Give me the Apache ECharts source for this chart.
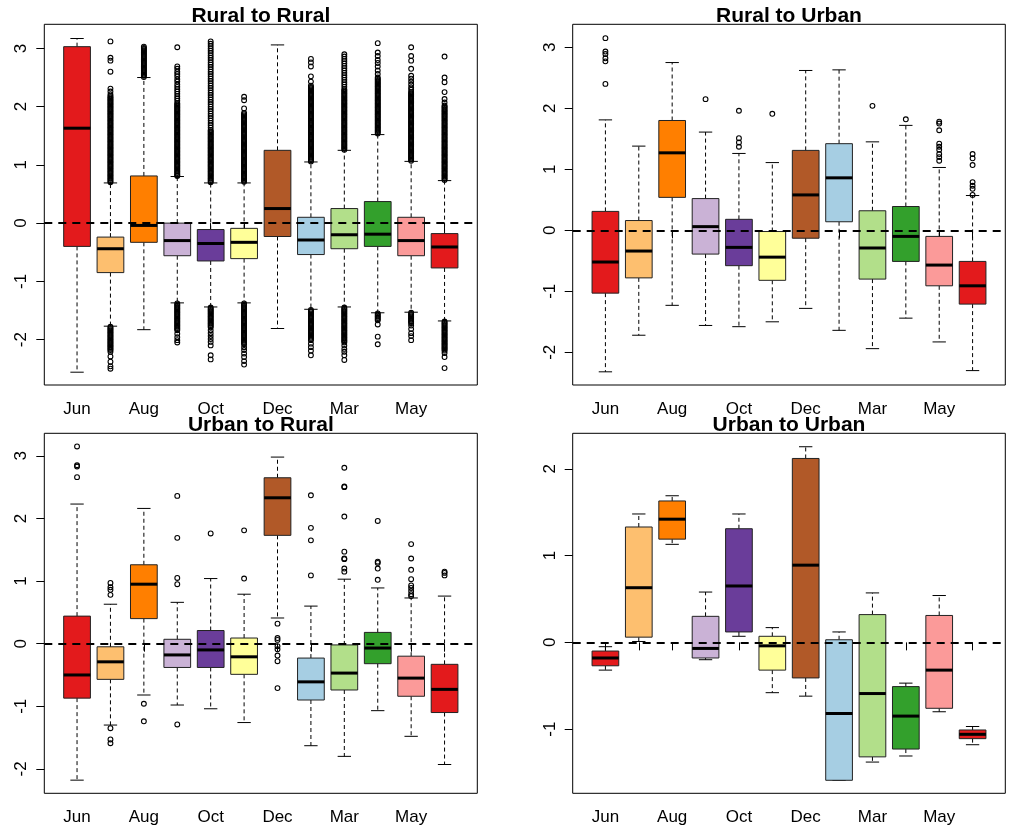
<!DOCTYPE html>
<html>
<head>
<meta charset="utf-8">
<script src="https://cdn.jsdelivr.net/npm/echarts@6/dist/echarts.min.js"></script>
<style>
html,body{margin:0;padding:0;background:#fff;}
#c{width:1010px;height:831px;}
</style>
</head>
<body>
<div id="c"></div>
<script>
// ---------- data ----------
var MONTHS = ['Jun','Jul','Aug','Sep','Oct','Nov','Dec','Jan','Mar','Apr','May','Jun'];
var COLORS = ['#E31A1C','#FDBF6F','#FF7F00','#CAB2D6','#6A3D9A','#FFFF99','#B15928','#A6CEE3','#B2DF8A','#33A02C','#FB9A99','#E31A1C'];
var TITLES = ['Rural to Rural','Rural to Urban','Urban to Rural','Urban to Urban'];

// Rural to Rural
var rrLow  = [-2.56,-1.77,-1.83,-1.37,-1.44,-1.37,-1.81,-1.48,-1.44,-1.54,-1.53,-1.68];
var rrQ1   = [-0.40,-0.85,-0.33,-0.56,-0.65,-0.61,-0.23,-0.54,-0.44,-0.40,-0.56,-0.77];
var rrMed  = [ 1.63,-0.44,-0.04,-0.30,-0.35,-0.33, 0.25,-0.29,-0.20,-0.19,-0.30,-0.41];
var rrQ3   = [ 3.03,-0.24, 0.81, 0.00,-0.11,-0.09, 1.25, 0.10, 0.25, 0.37, 0.10,-0.18];
var rrHigh = [ 3.17, 0.69, 2.50, 0.80, 0.69, 0.69, 3.06, 1.05, 1.25, 1.52, 1.06, 0.73];
var rrOut = [
  [],
  [3.12,2.84,2.79,2.60,2.31,2.26,2.21,
   2.18,2.16,2.14,2.12,2.10,2.08,2.06,2.04,2.02,2.00,1.98,1.96,1.94,1.92,1.90,1.88,1.86,1.84,1.82,1.80,1.78,1.76,1.74,1.72,1.70,1.68,1.66,1.64,1.62,1.60,1.58,1.56,1.54,1.52,1.50,1.48,1.46,1.44,1.42,1.40,1.38,1.36,1.34,1.32,1.30,1.28,1.26,1.24,1.22,1.20,1.18,1.16,1.14,1.12,1.10,1.08,1.06,1.04,1.02,1.00,0.98,0.96,0.94,0.92,0.90,0.88,0.86,0.84,0.82,0.80,0.78,0.76,0.74,0.72,0.70,
   -1.78,-1.80,-1.82,-1.84,-1.86,-1.88,-1.90,-1.92,-1.94,-1.96,-1.98,-2.00,-2.02,-2.04,-2.06,-2.08,-2.10,-2.12,-2.14,-2.16,-2.18,-2.21,-2.29,-2.38,-2.46,-2.50],
  [2.51,2.53,2.55,2.57,2.59,2.61,2.63,2.65,2.67,2.69,2.71,2.73,2.75,2.77,2.79,2.81,2.83,2.85,2.87,2.89,2.91,2.93,2.95,2.97,2.99,3.01,3.03],
  [3.02,2.69,2.65,2.60,2.56,2.52,2.47,2.43,2.38,2.34,2.30,2.26,2.22,2.18,2.14,2.10,
   2.06,2.04,2.02,2.00,1.98,1.96,1.94,1.92,1.90,1.88,1.86,1.84,1.82,1.80,1.78,1.76,1.74,1.72,1.70,1.68,1.66,1.64,1.62,1.60,1.58,1.56,1.54,1.52,1.50,1.48,1.46,1.44,1.42,1.40,1.38,1.36,1.34,1.32,1.30,1.28,1.26,1.24,1.22,1.20,1.18,1.16,1.14,1.12,1.10,1.08,1.06,1.04,1.02,1.00,0.98,0.96,0.94,0.92,0.90,0.88,0.86,0.84,0.82,0.81,
   -1.38,-1.40,-1.42,-1.44,-1.46,-1.48,-1.50,-1.52,-1.54,-1.56,-1.58,-1.60,-1.62,-1.64,-1.66,-1.68,-1.70,-1.72,-1.74,-1.76,-1.78,-1.80,-1.82,-1.84,-1.90,-1.96,-2.01,-2.05],
  [3.12,3.08,3.04,3.00,2.96,2.92,2.88,2.84,2.80,2.76,2.72,2.68,2.64,2.60,2.56,2.52,2.48,2.44,2.40,2.36,2.32,2.28,2.24,2.20,2.16,2.12,2.08,2.04,2.00,1.96,1.92,1.88,1.84,1.80,1.76,1.72,1.68,1.64,1.60,
   1.58,1.56,1.54,1.52,1.50,1.48,1.46,1.44,1.42,1.40,1.38,1.36,1.34,1.32,1.30,1.28,1.26,1.24,1.22,1.20,1.18,1.16,1.14,1.12,1.10,1.08,1.06,1.04,1.02,1.00,0.98,0.96,0.94,0.92,0.90,0.88,0.86,0.84,0.82,0.80,0.78,0.76,0.74,0.72,0.70,
   -1.45,-1.47,-1.49,-1.51,-1.53,-1.55,-1.57,-1.59,-1.61,-1.63,-1.65,-1.67,-1.69,-1.71,-1.73,-1.75,-1.77,-1.79,-1.84,-1.89,-1.94,-1.99,-2.04,-2.10,-2.27,-2.34],
  [2.17,2.11,1.97,
   1.89,1.87,1.85,1.83,1.81,1.79,1.77,1.75,1.73,1.71,1.69,1.67,1.65,1.63,1.61,1.59,1.57,1.55,1.53,1.51,1.49,1.47,1.45,1.43,1.41,1.39,1.37,1.35,1.33,1.31,1.29,1.27,1.25,1.23,1.21,1.19,1.17,1.15,1.13,1.11,1.09,1.07,1.05,1.03,1.01,0.99,0.97,0.95,0.93,0.91,0.89,0.87,0.85,0.83,0.81,0.79,0.77,0.75,0.73,0.71,
   -1.38,-1.40,-1.42,-1.44,-1.46,-1.48,-1.50,-1.52,-1.54,-1.56,-1.58,-1.60,-1.62,-1.64,-1.66,-1.68,-1.70,-1.72,-1.74,-1.76,-1.78,-1.80,-1.82,-1.84,-1.86,-1.88,-1.90,-1.92,-1.94,-1.96,-1.98,-2.00,-2.02,-2.04,-2.06,-2.08,-2.13,-2.18,-2.24,-2.30,-2.37,-2.43],
  [],
  [2.82,2.76,2.69,2.52,2.43,
   2.36,2.34,2.32,2.30,2.28,2.26,2.24,2.22,2.20,2.18,2.16,2.14,2.12,2.10,2.08,2.06,2.04,2.02,2.00,1.98,1.96,1.94,1.92,1.90,1.88,1.86,1.84,1.82,1.80,1.78,1.76,1.74,1.72,1.70,1.68,1.66,1.64,1.62,1.60,1.58,1.56,1.54,1.52,1.50,1.48,1.46,1.44,1.42,1.40,1.38,1.36,1.34,1.32,1.30,1.28,1.26,1.24,1.22,1.20,1.18,1.16,1.14,1.12,1.10,1.08,1.06,
   -1.49,-1.51,-1.53,-1.55,-1.57,-1.59,-1.61,-1.63,-1.65,-1.67,-1.69,-1.71,-1.73,-1.75,-1.77,-1.79,-1.81,-1.83,-1.85,-1.87,-1.89,-1.91,-1.93,-1.95,-1.97,-1.99,-2.01,-2.07,-2.13,-2.19,-2.27],
  [2.90,2.86,2.82,2.78,2.74,2.70,2.66,2.62,2.58,2.54,2.50,2.46,2.42,2.38,2.34,2.30,
   2.28,2.26,2.24,2.22,2.20,2.18,2.16,2.14,2.12,2.10,2.08,2.06,2.04,2.02,2.00,1.98,1.96,1.94,1.92,1.90,1.88,1.86,1.84,1.82,1.80,1.78,1.76,1.74,1.72,1.70,1.68,1.66,1.64,1.62,1.60,1.58,1.56,1.54,1.52,1.50,1.48,1.46,1.44,1.42,1.40,1.38,1.36,1.34,1.32,1.30,1.28,1.26,
   -1.45,-1.47,-1.49,-1.51,-1.53,-1.55,-1.57,-1.59,-1.61,-1.63,-1.65,-1.67,-1.69,-1.71,-1.73,-1.75,-1.77,-1.79,-1.81,-1.83,-1.85,-1.87,-1.89,-1.91,-1.93,-1.95,-1.97,-1.99,-2.01,-2.03,-2.05,-2.10,-2.16,-2.21,-2.27,-2.35],
  [3.09,2.93,2.87,2.80,2.75,2.69,2.62,2.56,
   2.50,2.48,2.46,2.44,2.42,2.40,2.38,2.36,2.34,2.32,2.30,2.28,2.26,2.24,2.22,2.20,2.18,2.16,2.14,2.12,2.10,2.08,2.06,2.04,2.02,2.00,1.98,1.96,1.94,1.92,1.90,1.88,1.86,1.84,1.82,1.80,1.78,1.76,1.74,1.72,1.70,1.68,1.66,1.64,1.62,1.60,1.58,1.56,1.54,
   -1.55,-1.57,-1.59,-1.61,-1.63,-1.65,-1.67,-1.74,-1.95,-2.08],
  [3.02,2.87,2.79,2.65,2.53,2.48,2.43,2.38,2.33,2.29,
   2.25,2.23,2.21,2.19,2.17,2.15,2.13,2.11,2.09,2.07,2.05,2.03,2.01,1.99,1.97,1.95,1.93,1.91,1.89,1.87,1.85,1.83,1.81,1.79,1.77,1.75,1.73,1.71,1.69,1.67,1.65,1.63,1.61,1.59,1.57,1.55,1.53,1.51,1.49,1.47,1.45,1.43,1.41,1.39,1.37,1.35,1.33,1.31,1.29,1.27,1.25,1.23,1.21,1.19,1.17,1.15,1.13,1.11,1.09,1.07,
   -1.54,-1.56,-1.58,-1.60,-1.62,-1.64,-1.66,-1.68,-1.70,-1.72,-1.76,-1.82,-1.89,-1.94,-2.01],
  [2.86,2.50,2.42,2.25,2.13,2.07,
   2.02,2.00,1.98,1.96,1.94,1.92,1.90,1.88,1.86,1.84,1.82,1.80,1.78,1.76,1.74,1.72,1.70,1.68,1.66,1.64,1.62,1.60,1.58,1.56,1.54,1.52,1.50,1.48,1.46,1.44,1.42,1.40,1.38,1.36,1.34,1.32,1.30,1.28,1.26,1.24,1.22,1.20,1.18,1.16,1.14,1.12,1.10,1.08,1.06,1.04,1.02,1.00,0.98,0.96,0.94,0.92,0.90,0.88,0.86,0.84,0.82,0.80,0.78,0.76,0.74,
   -1.69,-1.71,-1.73,-1.75,-1.77,-1.79,-1.81,-1.83,-1.85,-1.87,-1.89,-1.91,-1.93,-1.95,-1.97,-1.99,-2.01,-2.03,-2.05,-2.07,-2.09,-2.11,-2.13,-2.15,-2.17,-2.19,-2.23,-2.30,-2.49]
];

// Rural to Urban
var ruLow  = [-2.32,-1.72,-1.23,-1.56,-1.58,-1.50,-1.28,-1.64,-1.94,-1.44,-1.83,-2.30];
var ruQ1   = [-1.03,-0.78, 0.54,-0.39,-0.58,-0.82,-0.13, 0.14,-0.80,-0.51,-0.91,-1.21];
var ruMed  = [-0.52,-0.34, 1.27, 0.06,-0.28,-0.44, 0.58, 0.86,-0.29,-0.10,-0.57,-0.91];
var ruQ3   = [ 0.31, 0.16, 1.80, 0.52, 0.18,-0.02, 1.31, 1.42, 0.32, 0.39,-0.10,-0.51];
var ruHigh = [ 1.81, 1.38, 2.75, 1.61, 1.26, 1.11, 2.62, 2.63, 1.45, 1.72, 1.03, 0.57];
var ruOut = [[3.15,2.93,2.89,2.82,2.77,2.40],[],[],[2.15],[1.96,1.51,1.44,1.37],[1.91],[],[],[2.04],[1.82],
  [1.78,1.75,1.64,1.42,1.37,1.32,1.25,1.20,1.14],[1.25,1.18,1.07,0.79,0.73,0.68,0.58]];

// Urban to Rural
var urLow  = [-2.18,-1.30,-0.82,-0.98,-1.04,-1.26, 0.41,-1.63,-1.80,-1.07,-1.48,-1.93];
var urQ1   = [-0.87,-0.57, 0.40,-0.38,-0.38,-0.49, 1.73,-0.90,-0.74,-0.32,-0.84,-1.10];
var urMed  = [-0.50,-0.29, 0.95,-0.18,-0.10,-0.21, 2.33,-0.61,-0.47,-0.07,-0.55,-0.73];
var urQ3   = [ 0.44,-0.05, 1.26, 0.07, 0.21, 0.09, 2.65,-0.23,-0.02, 0.18,-0.20,-0.33];
var urHigh = [ 2.23, 0.63, 2.16, 0.66, 1.04, 0.79, 2.98, 0.60, 1.03, 0.89, 0.73, 0.76];
var urOut = [[3.15,2.85,2.83,2.66],[0.97,0.90,0.86,0.78,-1.35,-1.53,-1.59],[-0.96,-1.24],[2.36,1.69,1.05,0.95,-1.29],
  [1.76],[1.81,1.04],[0.32,0.09,0.06,-0.04,-0.09,-0.19,-0.28,-0.71],[2.37,1.85,1.65,1.09],
  [2.81,2.51,2.50,2.03,1.47,1.36,1.35,1.20,1.15],[1.96,1.31,1.29,1.20,1.02],[1.59,1.36,1.18,1.03,0.93,0.89,0.84,0.79,0.76],[1.15,1.13,1.09]];

// Urban to Urban
var uuLow  = [-0.32, 0.01, 1.13,-0.20, 0.07,-0.58,-0.62,-1.59,-1.38,-1.31,-0.80,-1.18];
var uuQ1   = [-0.27, 0.06, 1.19,-0.18, 0.12,-0.32,-0.41,-1.59,-1.32,-1.23,-0.76,-1.11];
var uuMed  = [-0.18, 0.63, 1.42,-0.07, 0.65,-0.04, 0.89,-0.82,-0.59,-0.85,-0.32,-1.06];
var uuQ3   = [-0.10, 1.33, 1.63, 0.30, 1.31, 0.07, 2.12, 0.03, 0.32,-0.51, 0.31,-1.01];
var uuHigh = [-0.05, 1.48, 1.69, 0.58, 1.48, 0.17, 2.255,0.12, 0.57,-0.47, 0.54,-0.97];
var uuOut = [[],[],[],[],[],[],[],[],[],[],[],[]];

var Y_TICKS = [[-2,-1,0,1,2,3],[-2,-1,0,1,2,3],[-2,-1,0,1,2,3],[-1,0,1,2]];
var Y_RANGE = [[-2.78,3.414],[-2.536,3.377],[-2.39,3.36],[-1.74,2.41]];
var X_LABEL_POS = [1,3,5,7,9,11];
var X_TICK_POS = [1,2,3,4,5,6,7,8,9,10,11,12];

// ---------- build ----------
var panels = [
  [rrLow,rrQ1,rrMed,rrQ3,rrHigh,rrOut],
  [ruLow,ruQ1,ruMed,ruQ3,ruHigh,ruOut],
  [urLow,urQ1,urMed,urQ3,urHigh,urOut],
  [uuLow,uuQ1,uuMed,uuQ3,uuHigh,uuOut]
];
var GRIDS = [
  {left:44.3, top:24.3, width:433, height:360.7},
  {left:572.7, top:24.3, width:432.6, height:360.7},
  {left:44.3, top:433.3, width:433, height:360},
  {left:572.7, top:433.3, width:432.6, height:360}
];
var FONT = '"Liberation Sans", Arial, Helvetica, sans-serif';

function renderBox(params, api){
  var x = api.value(0);
  var lo = api.coord([x, api.value(1)]);
  var q1 = api.coord([x, api.value(2)]);
  var md = api.coord([x, api.value(3)]);
  var q3 = api.coord([x, api.value(4)]);
  var hi = api.coord([x, api.value(5)]);
  var bw = api.size([0.8, 0])[0];
  var sw = bw * 0.5;
  var cx = lo[0];
  var color = COLORS[params.dataIndex];
  var dash = {stroke:'#000', lineWidth:1, lineDash:[4,3]};
  var solid = {stroke:'#000', lineWidth:1};
  return {type:'group', children:[
    {type:'line', shape:{x1:cx,y1:q3[1],x2:cx,y2:hi[1]}, style:dash},
    {type:'line', shape:{x1:cx,y1:q1[1],x2:cx,y2:lo[1]}, style:dash},
    {type:'line', shape:{x1:cx-sw/2,y1:hi[1],x2:cx+sw/2,y2:hi[1]}, style:solid},
    {type:'line', shape:{x1:cx-sw/2,y1:lo[1],x2:cx+sw/2,y2:lo[1]}, style:solid},
    {type:'rect', shape:{x:cx-bw/2, y:q3[1], width:bw, height:q1[1]-q3[1]}, style:{fill:color, stroke:'#222', lineWidth:1}},
    {type:'line', shape:{x1:cx-bw/2,y1:md[1],x2:cx+bw/2,y2:md[1]}, style:{stroke:'#000', lineWidth:3}}
  ]};
}

var option = {animation:false, backgroundColor:'#fff', title:[], grid:[], xAxis:[], yAxis:[], series:[]};

panels.forEach(function(p, k){
  var g = GRIDS[k];
  option.grid.push({left:g.left, top:g.top, width:g.width, height:g.height, show:true, borderColor:'#000', borderWidth:1, backgroundColor:'transparent'});
  option.title.push({text:TITLES[k], left:g.left + g.width/2, top:g.top - 18.5, textAlign:'center', padding:0,
    textStyle:{fontFamily:FONT, fontSize:21, fontWeight:'bold', color:'#000'}});
  option.xAxis.push({type:'value', gridIndex:k, min:0.02, max:12.98,
    axisLine:{show:false}, splitLine:{show:false},
    axisTick:{show:true, inside:false, length:8, customValues:X_TICK_POS, lineStyle:{color:'#000', width:1}},
    axisLabel:{show:true, margin:16, customValues:X_LABEL_POS, fontFamily:FONT, fontSize:17, color:'#000',
      formatter:function(v){ return MONTHS[Math.round(v)-1]; }}
  });
  option.yAxis.push({type:'value', gridIndex:k, min:Y_RANGE[k][0], max:Y_RANGE[k][1],
    axisLine:{show:false}, splitLine:{show:false},
    axisTick:{show:true, inside:false, length:8, customValues:Y_TICKS[k], lineStyle:{color:'#000', width:1}},
    axisLabel:{show:true, margin:14, rotate:90, customValues:Y_TICKS[k], fontFamily:FONT, fontSize:17, color:'#000',
      formatter:function(v){ return String(v); }}
  });
  var boxData = [];
  for (var i = 0; i < 12; i++) boxData.push([i+1, p[0][i], p[1][i], p[2][i], p[3][i], p[4][i]]);
  option.series.push({type:'custom', xAxisIndex:k, yAxisIndex:k, renderItem:renderBox, data:boxData, silent:true, z:2,
    encode:{x:0, y:[1,2,3,4,5]}});
  var outData = [];
  p[5].forEach(function(arr, i){ arr.forEach(function(v){ outData.push([i+1, v]); }); });
  option.series.push({type:'scatter', xAxisIndex:k, yAxisIndex:k, data:outData, silent:true, z:3,
    symbol:'circle', symbolSize:4.8, large:false,
    itemStyle:{color:'rgba(0,0,0,0)', borderColor:'#000', borderWidth:1.1, opacity:1},
    markLine:{silent:true, symbol:['none','none'], label:{show:false},
      lineStyle:{color:'#000', width:2, type:[8,6]}, data:[{yAxis:0}]}
  });
});

var chart = echarts.init(document.getElementById('c'), null, {renderer:'canvas'});
chart.setOption(option);
</script>
</body>
</html>
